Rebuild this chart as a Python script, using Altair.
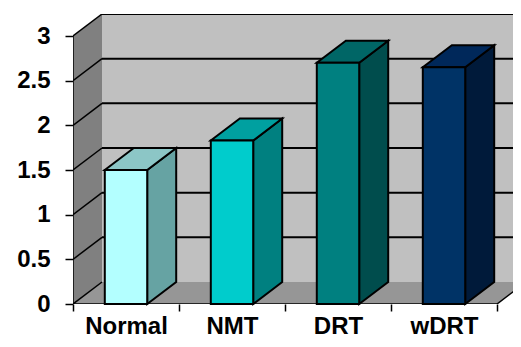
import json
import altair as alt
import pandas as pd

# ---- data ----
categories = ["Normal", "NMT", "DRT", "wDRT"]
values = [1.5, 1.83, 2.7, 2.65]
front_colors = ["#B3FFFF", "#00CCCC", "#008080", "#003366"]
top_colors = ["#8CC6C6", "#00A0A0", "#006666", "#00285A"]
side_colors = ["#66A3A3", "#008080", "#004D4D", "#001A3A"]
y_ticks = [0, 0.5, 1, 1.5, 2, 2.5, 3]

# ---- geometry / style ----
W, H = 440, 290
PAD_L, PAD_T, PAD_B = 65, 6, 35
PX_PER_CAT = 106.0
PX_PER_UNIT = 89.333
DX = 29 / PX_PER_CAT      # depth offset in x units
DY = 22 / PX_PER_UNIT     # depth offset in y units
BAR_W = 0.4
N = len(categories)
YMAX = y_ticks[-1]
XMAX = W / PX_PER_CAT
FONT = "Liberation Sans"

xs = alt.Scale(domain=[0, XMAX], nice=False, zero=False)
ys = alt.Scale(domain=[0, H / PX_PER_UNIT], nice=False, zero=False)

label_expr = f"datum.value < {N} ? {json.dumps(categories)}[datum.value] : ''"
XAX = alt.Axis(
    values=list(range(N + 1)), labelExpr=label_expr, labelOffset=PX_PER_CAT / 2,
    tickSize=7, tickWidth=1.5, tickColor="black", domain=False, grid=False, title=None,
    labelFont=FONT, labelFontSize=24, labelFontWeight="bold", labelColor="black",
    labelPadding=3, labelFlush=False, labelOverlap=False, labelBound=False)
YAX = alt.Axis(
    values=y_ticks, format="~g", tickSize=8, tickWidth=1.5, tickColor="black",
    domain=False, grid=False, title=None, labelFont=FONT, labelFontSize=24,
    labelFontWeight="bold", labelColor="black", labelPadding=15,
    labelFlush=False, labelOverlap=False)


def X(f, **kw):
    return alt.X(f, scale=xs, axis=XAX, **kw)


def Y(f, **kw):
    return alt.Y(f, scale=ys, axis=YAX, **kw)


# back wall
back = pd.DataFrame({"x": [DX], "x2": [N + 1 + DX], "y": [DY], "y2": [YMAX + DY]})
back_layer = alt.Chart(back).mark_rect(color="#C0C0C0", clip=True).encode(
    x=X("x:Q"), x2="x2:Q", y=Y("y:Q"), y2="y2:Q")

# floor
floor = pd.DataFrame({"y": [0, DY], "x": [0, DX], "x2": [N, N + DX]})
floor_layer = alt.Chart(floor).mark_area(orient="horizontal", color="#969696", clip=True).encode(
    y=Y("y:Q"), x=X("x:Q", stack=None), x2="x2:Q")

# left wall
lwall = pd.DataFrame({"x": [0, DX], "y": [0, DY], "y2": [YMAX, YMAX + DY]})
lwall_layer = alt.Chart(lwall).mark_area(orient="vertical", color="#808080").encode(
    x=X("x:Q"), y=Y("y:Q", stack=None), y2="y2:Q")

# back-wall gridlines
hgrid = pd.DataFrame({"y": [v + DY for v in y_ticks[1:]], "x": DX, "x2": N + 1 + DX})
hgrid_layer = alt.Chart(hgrid).mark_rule(color="black", strokeWidth=2, clip=True).encode(
    x=X("x:Q"), x2="x2:Q", y=Y("y:Q"))

# diagonal gridlines on left wall + edges
edges = pd.DataFrame({
    "x": [0.0] * len(y_ticks) + [0.0, 0.0, float(N)],
    "x2": [DX] * len(y_ticks) + [0.0, float(N), N + DX],
    "y": list(y_ticks) + [0.0, 0.0, 0.0],
    "y2": [v + DY for v in y_ticks] + [YMAX, 0.0, DY],
})
edge_layer = alt.Chart(edges).mark_rule(color="black", strokeWidth=1.5, clip=True).encode(
    x=X("x:Q"), x2="x2:Q", y=Y("y:Q"), y2="y2:Q")

# bars
fr, sd, tp = [], [], []
for i, (c, v) in enumerate(zip(categories, values)):
    ctr = i + 0.5
    L, R = ctr - BAR_W / 2, ctr + BAR_W / 2
    fr.append({"cat": c, "x": L, "x2": R, "y": 0, "y2": v, "fill": front_colors[i]})
    sd.append({"cat": c, "x": R, "y": 0, "y2": v, "fill": side_colors[i]})
    sd.append({"cat": c, "x": R + DX, "y": DY, "y2": v + DY, "fill": side_colors[i]})
    tp.append({"cat": c, "y": v, "x": L, "x2": R, "fill": top_colors[i]})
    tp.append({"cat": c, "y": v + DY, "x": L + DX, "x2": R + DX, "fill": top_colors[i]})

side_layer = alt.Chart(pd.DataFrame(sd)).mark_area(
    orient="vertical", stroke="black", strokeWidth=2, strokeJoin="miter").encode(
    x=X("x:Q"), y=Y("y:Q", stack=None), y2="y2:Q",
    color=alt.Color("fill:N", scale=None), detail="cat:N")
top_layer = alt.Chart(pd.DataFrame(tp)).mark_area(
    orient="horizontal", stroke="black", strokeWidth=2, strokeJoin="miter").encode(
    y=Y("y:Q"), x=X("x:Q", stack=None), x2="x2:Q",
    color=alt.Color("fill:N", scale=None), detail="cat:N")
front_layer = alt.Chart(pd.DataFrame(fr)).mark_rect(stroke="black", strokeWidth=2).encode(
    x=X("x:Q"), x2="x2:Q", y=Y("y:Q"), y2="y2:Q",
    color=alt.Color("fill:N", scale=None))

chart = alt.layer(
    back_layer, floor_layer, lwall_layer, hgrid_layer, edge_layer,
    side_layer, top_layer, front_layer,
).properties(
    width=W, height=H,
    autosize=alt.AutoSizeParams(type="none"),
    padding={"left": PAD_L, "top": PAD_T, "right": 0, "bottom": PAD_B},
).configure_view(stroke=None)

chart.save("out.html", embed_options={"renderer": "svg", "actions": False})
